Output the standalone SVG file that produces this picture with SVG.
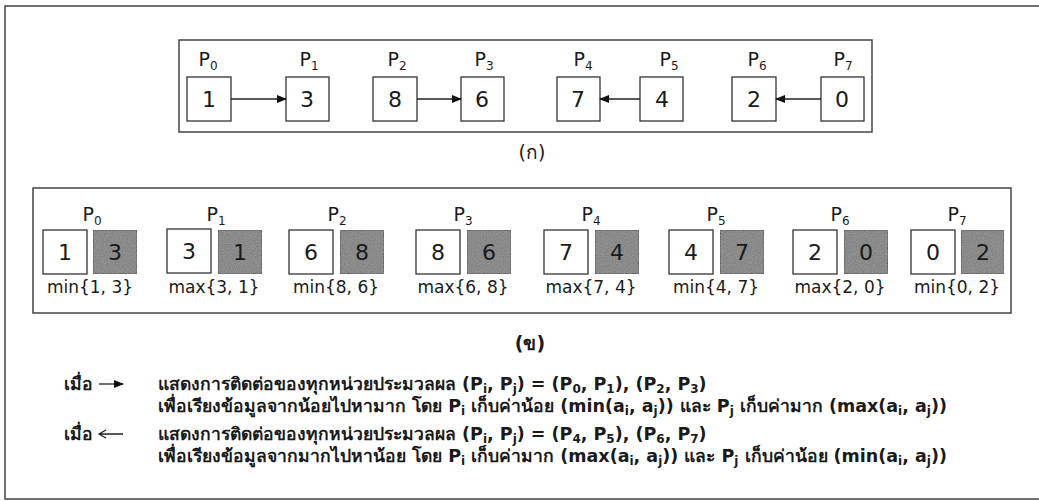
<svg xmlns="http://www.w3.org/2000/svg" width="1039" height="501" viewBox="0 0 1039 501">
<style>
.frame{fill:none;stroke:#444;stroke-width:1.5}
.cell{fill:#fff;stroke:#333;stroke-width:1.3}
.dark{fill:#767676;stroke:#222;stroke-width:1.3}
.lbl{font-family:"DejaVu Sans","Liberation Sans",sans-serif;font-size:19px;fill:#1a1a1a;text-anchor:middle}
.num{font-family:"DejaVu Sans","Liberation Sans",sans-serif;font-size:22px;fill:#1a1a1a;text-anchor:middle}
.fn{font-family:"DejaVu Sans","Liberation Sans",sans-serif;font-size:17px;fill:#1a1a1a;text-anchor:middle}
.cap{font-family:"DejaVu Sans","Noto Sans","Liberation Sans",sans-serif;font-size:19px;fill:#1a1a1a;text-anchor:middle}
.leg{font-family:"DejaVu Sans","Noto Sans","Liberation Sans",sans-serif;font-size:17.5px;font-weight:bold;fill:#1a1a1a}
.s{font-size:12px}
.conn{stroke:#222;stroke-width:1.3;fill:none}
</style>
<defs>
<marker id="ah" markerWidth="10" markerHeight="8" refX="9" refY="4" orient="auto" markerUnits="userSpaceOnUse">
<path d="M0,0 L10,4 L0,8 Z" fill="#111"/>
</marker>
<filter id="grain" x="0" y="0" width="1" height="1">
<feTurbulence type="fractalNoise" baseFrequency="0.9" numOctaves="2" seed="3" result="n"/>
<feColorMatrix in="n" type="matrix" values="0 0 0 0 0.4  0 0 0 0 0.4  0 0 0 0 0.4  0 0 0 0.7 0" result="g"/>
<feComposite in="g" in2="SourceGraphic" operator="in" result="gi"/>
<feMerge><feMergeNode in="SourceGraphic"/><feMergeNode in="gi"/></feMerge>
</filter>
</defs>
<rect width="1039" height="501" fill="#fff"/>
<rect class="frame" x="5" y="6" width="1045" height="493"/>

<!-- (ก) -->
<rect class="frame" x="179" y="40" width="693" height="92"/>
<g id="top-p0"><text class="lbl" x="208" y="66">P<tspan class="s" baseline-shift="-4">0</tspan></text><rect class="cell" x="187" y="77" width="44" height="44"/><text class="num" x="209" y="107">1</text></g>
<g id="top-p1"><text class="lbl" x="309" y="66">P<tspan class="s" baseline-shift="-4">1</tspan></text><rect class="cell" x="286" y="77" width="43" height="44"/><text class="num" x="307" y="107">3</text></g>
<g id="top-p2"><text class="lbl" x="397" y="66">P<tspan class="s" baseline-shift="-4">2</tspan></text><rect class="cell" x="373" y="77" width="44" height="44"/><text class="num" x="395" y="107">8</text></g>
<g id="top-p3"><text class="lbl" x="484" y="66">P<tspan class="s" baseline-shift="-4">3</tspan></text><rect class="cell" x="461" y="77" width="43" height="44"/><text class="num" x="482" y="107">6</text></g>
<g id="top-p4"><text class="lbl" x="583" y="66">P<tspan class="s" baseline-shift="-4">4</tspan></text><rect class="cell" x="557" y="77" width="43" height="44"/><text class="num" x="578" y="107">7</text></g>
<g id="top-p5"><text class="lbl" x="669" y="66">P<tspan class="s" baseline-shift="-4">5</tspan></text><rect class="cell" x="640" y="77" width="43" height="44"/><text class="num" x="662" y="107">4</text></g>
<g id="top-p6"><text class="lbl" x="757" y="66">P<tspan class="s" baseline-shift="-4">6</tspan></text><rect class="cell" x="732" y="77" width="44" height="44"/><text class="num" x="754" y="107">2</text></g>
<g id="top-p7"><text class="lbl" x="843" y="66">P<tspan class="s" baseline-shift="-4">7</tspan></text><rect class="cell" x="821" y="77" width="43" height="44"/><text class="num" x="842" y="107">0</text></g>
<g id="connectors">
<line class="conn" x1="231" y1="99" x2="286" y2="99" marker-end="url(#ah)"/>
<line class="conn" x1="417" y1="99" x2="461" y2="99" marker-end="url(#ah)"/>
<line class="conn" x1="640" y1="99" x2="600" y2="99" marker-end="url(#ah)"/>
<line class="conn" x1="821" y1="99" x2="776" y2="99" marker-end="url(#ah)"/>
</g>
<text class="cap" x="532" y="159">(ก)</text>

<!-- (ข) -->
<rect class="frame" x="33" y="188" width="978" height="125"/>
<g id="bot-p0"><text class="lbl" x="92" y="221">P<tspan class="s" baseline-shift="-4">0</tspan></text><rect class="cell" x="43" y="230" width="44" height="44"/><text class="num" x="65" y="260">1</text><rect class="dark" filter="url(#grain)" x="93" y="230" width="44" height="44"/><text class="num" x="115" y="260">3</text><text class="fn" x="90" y="293">min{1, 3}</text></g>
<g id="bot-p1"><text class="lbl" x="216" y="221">P<tspan class="s" baseline-shift="-4">1</tspan></text><rect class="cell" x="167" y="229" width="44" height="44"/><text class="num" x="189" y="259">3</text><rect class="dark" filter="url(#grain)" x="218" y="230" width="44" height="44"/><text class="num" x="240" y="260">1</text><text class="fn" x="214" y="293">max{3, 1}</text></g>
<g id="bot-p2"><text class="lbl" x="337" y="221">P<tspan class="s" baseline-shift="-4">2</tspan></text><rect class="cell" x="289" y="230" width="44" height="44"/><text class="num" x="311" y="260">6</text><rect class="dark" filter="url(#grain)" x="340" y="230" width="44" height="44"/><text class="num" x="362" y="260">8</text><text class="fn" x="336" y="293">min{8, 6}</text></g>
<g id="bot-p3"><text class="lbl" x="463" y="221">P<tspan class="s" baseline-shift="-4">3</tspan></text><rect class="cell" x="416" y="230" width="44" height="44"/><text class="num" x="438" y="260">8</text><rect class="dark" filter="url(#grain)" x="467" y="230" width="44" height="44"/><text class="num" x="489" y="260">6</text><text class="fn" x="463" y="293">max{6, 8}</text></g>
<g id="bot-p4"><text class="lbl" x="591" y="221">P<tspan class="s" baseline-shift="-4">4</tspan></text><rect class="cell" x="544" y="230" width="44" height="44"/><text class="num" x="566" y="260">7</text><rect class="dark" filter="url(#grain)" x="595" y="230" width="44" height="44"/><text class="num" x="617" y="260">4</text><text class="fn" x="591" y="293">max{7, 4}</text></g>
<g id="bot-p5"><text class="lbl" x="716" y="221">P<tspan class="s" baseline-shift="-4">5</tspan></text><rect class="cell" x="669" y="230" width="44" height="44"/><text class="num" x="691" y="260">4</text><rect class="dark" filter="url(#grain)" x="720" y="230" width="44" height="44"/><text class="num" x="742" y="260">7</text><text class="fn" x="716" y="293">min{4, 7}</text></g>
<g id="bot-p6"><text class="lbl" x="840" y="221">P<tspan class="s" baseline-shift="-4">6</tspan></text><rect class="cell" x="793" y="230" width="44" height="44"/><text class="num" x="815" y="260">2</text><rect class="dark" filter="url(#grain)" x="844" y="230" width="44" height="44"/><text class="num" x="866" y="260">0</text><text class="fn" x="840" y="293">max{2, 0}</text></g>
<g id="bot-p7"><text class="lbl" x="957" y="221">P<tspan class="s" baseline-shift="-4">7</tspan></text><rect class="cell" x="911" y="230" width="44" height="44"/><text class="num" x="933" y="260">0</text><rect class="dark" filter="url(#grain)" x="961" y="230" width="43" height="44"/><text class="num" x="983" y="260">2</text><text class="fn" x="957" y="293">min{0, 2}</text></g>
<text class="cap" x="530" y="350" font-weight="bold">(ข)</text>

<!-- legend -->
<g id="legend">
<text class="leg" x="64" y="390">เมื่อ</text>
<line class="conn" x1="99" y1="384" x2="123" y2="384" marker-end="url(#ah)"/>
<text class="leg" x="158" y="390">แสดงการติดต่อของทุกหน่วยประมวลผล (P<tspan class="s" baseline-shift="-3">i</tspan>, P<tspan class="s" baseline-shift="-3">j</tspan>) = (P<tspan class="s" baseline-shift="-3">0</tspan>, P<tspan class="s" baseline-shift="-3">1</tspan>), (P<tspan class="s" baseline-shift="-3">2</tspan>, P<tspan class="s" baseline-shift="-3">3</tspan>)</text>
<text class="leg" x="158" y="412">เพื่อเรียงข้อมูลจากน้อยไปหามาก โดย P<tspan class="s" baseline-shift="-3">i</tspan> เก็บค่าน้อย (min(a<tspan class="s" baseline-shift="-3">i</tspan>, a<tspan class="s" baseline-shift="-3">j</tspan>)) และ P<tspan class="s" baseline-shift="-3">j</tspan> เก็บค่ามาก (max(a<tspan class="s" baseline-shift="-3">i</tspan>, a<tspan class="s" baseline-shift="-3">j</tspan>))</text>
<text class="leg" x="64" y="440">เมื่อ</text>
<path class="conn" d="M123,434 L99,434 M106,430 L99,434 L106,438"/>
<text class="leg" x="158" y="440">แสดงการติดต่อของทุกหน่วยประมวลผล (P<tspan class="s" baseline-shift="-3">i</tspan>, P<tspan class="s" baseline-shift="-3">j</tspan>) = (P<tspan class="s" baseline-shift="-3">4</tspan>, P<tspan class="s" baseline-shift="-3">5</tspan>), (P<tspan class="s" baseline-shift="-3">6</tspan>, P<tspan class="s" baseline-shift="-3">7</tspan>)</text>
<text class="leg" x="158" y="462">เพื่อเรียงข้อมูลจากมากไปหาน้อย โดย P<tspan class="s" baseline-shift="-3">i</tspan> เก็บค่ามาก (max(a<tspan class="s" baseline-shift="-3">i</tspan>, a<tspan class="s" baseline-shift="-3">j</tspan>)) และ P<tspan class="s" baseline-shift="-3">j</tspan> เก็บค่าน้อย (min(a<tspan class="s" baseline-shift="-3">i</tspan>, a<tspan class="s" baseline-shift="-3">j</tspan>))</text>
</g>
</svg>
